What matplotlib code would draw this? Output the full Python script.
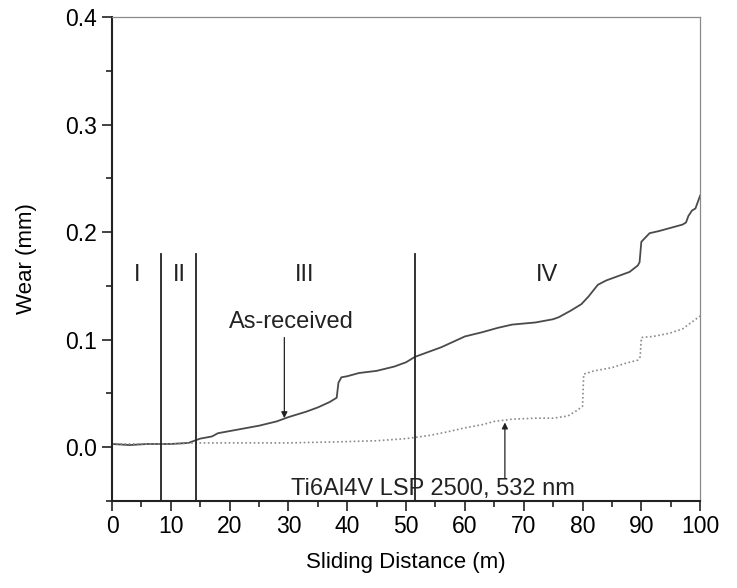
import numpy as np
import matplotlib
matplotlib.use("Agg")
import matplotlib.pyplot as plt
from matplotlib.ticker import MultipleLocator

plt.rcParams['font.family'] = ['Liberation Sans', 'DejaVu Sans']

# As-received curve
asrec_x = [0, 3, 6, 10, 13, 14, 15, 17, 18, 20, 23, 25, 28, 30, 33, 35, 37, 38.2,
           38.5, 39, 40, 42, 45, 48, 50, 51.5, 54, 56, 58, 60, 63, 65.6, 68, 72,
           75, 76, 78, 79.8, 81, 82.6, 84, 86, 88, 89.4, 89.7, 90, 91.4, 93, 95,
           97, 97.6, 98, 98.6, 99.2, 99.6, 100]
asrec_y = [0.003, 0.002, 0.003, 0.003, 0.004, 0.006, 0.008, 0.010, 0.013, 0.015,
           0.018, 0.020, 0.024, 0.028, 0.033, 0.037, 0.042, 0.046, 0.060, 0.065,
           0.066, 0.069, 0.071, 0.075, 0.079, 0.084, 0.089, 0.093, 0.098, 0.103,
           0.107, 0.111, 0.114, 0.116, 0.119, 0.121, 0.127, 0.133, 0.140, 0.151,
           0.155, 0.159, 0.163, 0.169, 0.172, 0.191, 0.199, 0.201, 0.204, 0.207,
           0.209, 0.215, 0.220, 0.222, 0.228, 0.234]

# Ti6Al4V LSP 2500, 532 nm curve
lsp_x = [0, 5, 10, 14, 20, 30, 38.5, 45, 50, 51.4, 54, 56.8, 60, 63, 65, 68, 72,
         75, 77.5, 79, 80, 80.2, 82, 85, 87.3, 89.4, 89.8, 90, 92, 94.8, 97, 99.5, 100]
lsp_y = [0.003, 0.003, 0.003, 0.004, 0.004, 0.004, 0.005, 0.006, 0.008, 0.009,
         0.011, 0.014, 0.018, 0.021, 0.024, 0.026, 0.027, 0.027, 0.029, 0.034,
         0.038, 0.068, 0.071, 0.074, 0.078, 0.081, 0.084, 0.102, 0.103, 0.106,
         0.110, 0.120, 0.122]

# regime boundaries and labels
bounds = [8.3, 14.2, 51.5]
regime_labels = ['I', 'II', 'III', 'IV']
regime_x = [4.3, 11.4, 32.8, 74.0]

fig = plt.figure(figsize=(7.37, 5.88), dpi=100)
ax = fig.add_axes([0.152, 0.148, 0.798, 0.823])

ax.plot(asrec_x, asrec_y, color='#4a4a4a', lw=1.3)
ax.plot(lsp_x, lsp_y, color='#8a8a8a', lw=1.2, linestyle=(0, (1, 1.5)))

for b in bounds:
    ax.plot([b, b], [-0.05, 0.18], color='#222222', lw=1.3)
for lab, xx in zip(regime_labels, regime_x):
    ax.text(xx, 0.16, lab, ha='center', va='center', fontsize=17, color='#222222')

ax.text(30.5, 0.116, 'As-received', ha='center', va='center', fontsize=17,
        color='#222222')
ax.annotate('', xy=(29.3, 0.027), xytext=(29.3, 0.102),
            arrowprops=dict(arrowstyle='-|>', color='#222222', lw=0.9,
                            mutation_scale=9, shrinkA=0, shrinkB=0))
ax.text(54.6, -0.039, 'Ti6Al4V LSP 2500, 532 nm', ha='center', va='center',
        fontsize=17, color='#222222')
ax.annotate('', xy=(66.8, 0.023), xytext=(66.8, -0.029),
            arrowprops=dict(arrowstyle='-|>', color='#222222', lw=0.9,
                            mutation_scale=9, shrinkA=0, shrinkB=0))

ax.set_xlim(0, 100)
ax.set_ylim(-0.05, 0.4)
ax.xaxis.set_major_locator(MultipleLocator(10))
ax.xaxis.set_minor_locator(MultipleLocator(5))
ax.yaxis.set_major_locator(MultipleLocator(0.1))
ax.yaxis.set_minor_locator(MultipleLocator(0.05))
ax.yaxis.set_major_formatter(plt.FuncFormatter(lambda v, p: f"{v:.1f}"))

ax.tick_params(which='both', direction='out', top=False, right=False,
               labelsize=16.5, color='#222222', width=1.2)
ax.tick_params(which='major', length=7)
ax.tick_params(which='minor', length=4.5)
ax.tick_params(axis='y', which='major', pad=4)
ax.tick_params(axis='x', which='major', pad=3)

for s in ['left', 'bottom']:
    ax.spines[s].set_linewidth(1.5)
    ax.spines[s].set_color('#222222')
for s in ['top', 'right']:
    ax.spines[s].set_linewidth(0.9)
    ax.spines[s].set_color('#8a8a8a')

ax.set_xlabel('Sliding Distance (m)', fontsize=16, labelpad=10)
ax.set_ylabel('Wear (mm)', fontsize=16, labelpad=20)

fig.savefig('out.png', dpi=100)
